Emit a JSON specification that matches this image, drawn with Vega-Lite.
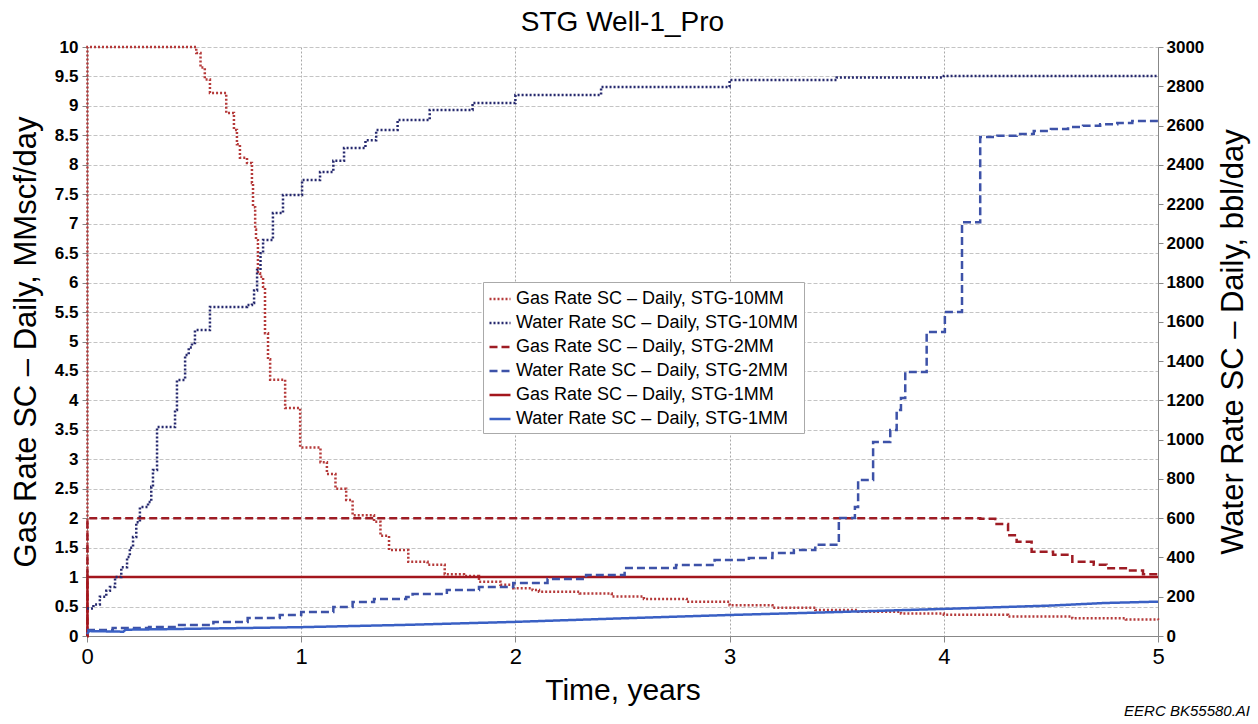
{
  "$schema": "https://vega.github.io/schema/vega-lite/v6.json",
  "autosize": {"type": "none"},
  "padding": {"left": 87, "top": 47, "right": 100, "bottom": 88},
  "width": 1071,
  "height": 589,
  "background": "white",
  "title": {"text": "STG Well-1_Pro", "fontSize": 28, "font": "Liberation Sans", "fontWeight": "normal", "color": "#000", "offset": 1, "anchor": "middle"},
  "config": {
    "view": {"stroke": null},
    "font": "Liberation Sans",
    "axis": {"domainColor": "#888", "tickColor": "#888", "labelColor": "#000", "titleColor": "#000", "titleFontWeight": "normal", "labelOverlap": false, "labelFlush": false}
  },
  "datasets": {
    "gas": [
      {"series": "Gas Rate SC – Daily, STG-10MM", "t": 0, "v": 0},
      {"series": "Gas Rate SC – Daily, STG-10MM", "t": 0.002, "v": 10},
      {"series": "Gas Rate SC – Daily, STG-10MM", "t": 0.51, "v": 9.9},
      {"series": "Gas Rate SC – Daily, STG-10MM", "t": 0.53, "v": 9.65},
      {"series": "Gas Rate SC – Daily, STG-10MM", "t": 0.55, "v": 9.45},
      {"series": "Gas Rate SC – Daily, STG-10MM", "t": 0.574, "v": 9.22},
      {"series": "Gas Rate SC – Daily, STG-10MM", "t": 0.65, "v": 8.88},
      {"series": "Gas Rate SC – Daily, STG-10MM", "t": 0.686, "v": 8.59},
      {"series": "Gas Rate SC – Daily, STG-10MM", "t": 0.7, "v": 8.35},
      {"series": "Gas Rate SC – Daily, STG-10MM", "t": 0.714, "v": 8.12},
      {"series": "Gas Rate SC – Daily, STG-10MM", "t": 0.747, "v": 8.03},
      {"series": "Gas Rate SC – Daily, STG-10MM", "t": 0.77, "v": 7.69},
      {"series": "Gas Rate SC – Daily, STG-10MM", "t": 0.775, "v": 7.28},
      {"series": "Gas Rate SC – Daily, STG-10MM", "t": 0.785, "v": 6.9},
      {"series": "Gas Rate SC – Daily, STG-10MM", "t": 0.789, "v": 6.72},
      {"series": "Gas Rate SC – Daily, STG-10MM", "t": 0.798, "v": 6.16},
      {"series": "Gas Rate SC – Daily, STG-10MM", "t": 0.808, "v": 6.1},
      {"series": "Gas Rate SC – Daily, STG-10MM", "t": 0.822, "v": 5.93},
      {"series": "Gas Rate SC – Daily, STG-10MM", "t": 0.831, "v": 5.14},
      {"series": "Gas Rate SC – Daily, STG-10MM", "t": 0.845, "v": 4.7},
      {"series": "Gas Rate SC – Daily, STG-10MM", "t": 0.855, "v": 4.35},
      {"series": "Gas Rate SC – Daily, STG-10MM", "t": 0.925, "v": 3.87},
      {"series": "Gas Rate SC – Daily, STG-10MM", "t": 0.995, "v": 3.2},
      {"series": "Gas Rate SC – Daily, STG-10MM", "t": 1.09, "v": 2.95},
      {"series": "Gas Rate SC – Daily, STG-10MM", "t": 1.12, "v": 2.75},
      {"series": "Gas Rate SC – Daily, STG-10MM", "t": 1.16, "v": 2.5},
      {"series": "Gas Rate SC – Daily, STG-10MM", "t": 1.21, "v": 2.31},
      {"series": "Gas Rate SC – Daily, STG-10MM", "t": 1.24, "v": 2.05},
      {"series": "Gas Rate SC – Daily, STG-10MM", "t": 1.34, "v": 1.94},
      {"series": "Gas Rate SC – Daily, STG-10MM", "t": 1.37, "v": 1.7},
      {"series": "Gas Rate SC – Daily, STG-10MM", "t": 1.41, "v": 1.46},
      {"series": "Gas Rate SC – Daily, STG-10MM", "t": 1.5, "v": 1.26},
      {"series": "Gas Rate SC – Daily, STG-10MM", "t": 1.59, "v": 1.21},
      {"series": "Gas Rate SC – Daily, STG-10MM", "t": 1.67, "v": 1.05},
      {"series": "Gas Rate SC – Daily, STG-10MM", "t": 1.76, "v": 1.02},
      {"series": "Gas Rate SC – Daily, STG-10MM", "t": 1.83, "v": 0.92},
      {"series": "Gas Rate SC – Daily, STG-10MM", "t": 1.93, "v": 0.87},
      {"series": "Gas Rate SC – Daily, STG-10MM", "t": 1.99, "v": 0.81},
      {"series": "Gas Rate SC – Daily, STG-10MM", "t": 2.08, "v": 0.78},
      {"series": "Gas Rate SC – Daily, STG-10MM", "t": 2.11, "v": 0.75},
      {"series": "Gas Rate SC – Daily, STG-10MM", "t": 2.3, "v": 0.72},
      {"series": "Gas Rate SC – Daily, STG-10MM", "t": 2.45, "v": 0.67},
      {"series": "Gas Rate SC – Daily, STG-10MM", "t": 2.6, "v": 0.63},
      {"series": "Gas Rate SC – Daily, STG-10MM", "t": 2.8, "v": 0.58},
      {"series": "Gas Rate SC – Daily, STG-10MM", "t": 3.0, "v": 0.52},
      {"series": "Gas Rate SC – Daily, STG-10MM", "t": 3.2, "v": 0.48},
      {"series": "Gas Rate SC – Daily, STG-10MM", "t": 3.4, "v": 0.44},
      {"series": "Gas Rate SC – Daily, STG-10MM", "t": 3.6, "v": 0.41},
      {"series": "Gas Rate SC – Daily, STG-10MM", "t": 3.8, "v": 0.38},
      {"series": "Gas Rate SC – Daily, STG-10MM", "t": 4.0, "v": 0.36},
      {"series": "Gas Rate SC – Daily, STG-10MM", "t": 4.3, "v": 0.33},
      {"series": "Gas Rate SC – Daily, STG-10MM", "t": 4.6, "v": 0.3},
      {"series": "Gas Rate SC – Daily, STG-10MM", "t": 4.85, "v": 0.28},
      {"series": "Gas Rate SC – Daily, STG-10MM", "t": 5.0, "v": 0.27},

      {"series": "Gas Rate SC – Daily, STG-2MM", "t": 0, "v": 0},
      {"series": "Gas Rate SC – Daily, STG-2MM", "t": 0.002, "v": 2},
      {"series": "Gas Rate SC – Daily, STG-2MM", "t": 4.17, "v": 1.99},
      {"series": "Gas Rate SC – Daily, STG-2MM", "t": 4.24, "v": 1.9},
      {"series": "Gas Rate SC – Daily, STG-2MM", "t": 4.3, "v": 1.71},
      {"series": "Gas Rate SC – Daily, STG-2MM", "t": 4.34, "v": 1.6},
      {"series": "Gas Rate SC – Daily, STG-2MM", "t": 4.41, "v": 1.43},
      {"series": "Gas Rate SC – Daily, STG-2MM", "t": 4.51, "v": 1.38},
      {"series": "Gas Rate SC – Daily, STG-2MM", "t": 4.6, "v": 1.26},
      {"series": "Gas Rate SC – Daily, STG-2MM", "t": 4.7, "v": 1.21},
      {"series": "Gas Rate SC – Daily, STG-2MM", "t": 4.76, "v": 1.15},
      {"series": "Gas Rate SC – Daily, STG-2MM", "t": 4.85, "v": 1.11},
      {"series": "Gas Rate SC – Daily, STG-2MM", "t": 4.93, "v": 1.05},
      {"series": "Gas Rate SC – Daily, STG-2MM", "t": 5.0, "v": 1.04},

      {"series": "Gas Rate SC – Daily, STG-1MM", "t": 0, "v": 0},
      {"series": "Gas Rate SC – Daily, STG-1MM", "t": 0.002, "v": 1},
      {"series": "Gas Rate SC – Daily, STG-1MM", "t": 5.0, "v": 1}
    ],
    "water": [
      {"series": "Water Rate SC – Daily, STG-10MM", "t": 0, "v": 140},
      {"series": "Water Rate SC – Daily, STG-10MM", "t": 0.03, "v": 160},
      {"series": "Water Rate SC – Daily, STG-10MM", "t": 0.06, "v": 200},
      {"series": "Water Rate SC – Daily, STG-10MM", "t": 0.09, "v": 230},
      {"series": "Water Rate SC – Daily, STG-10MM", "t": 0.107, "v": 250},
      {"series": "Water Rate SC – Daily, STG-10MM", "t": 0.131, "v": 300},
      {"series": "Water Rate SC – Daily, STG-10MM", "t": 0.16, "v": 350},
      {"series": "Water Rate SC – Daily, STG-10MM", "t": 0.187, "v": 402},
      {"series": "Water Rate SC – Daily, STG-10MM", "t": 0.2, "v": 450},
      {"series": "Water Rate SC – Daily, STG-10MM", "t": 0.215, "v": 504},
      {"series": "Water Rate SC – Daily, STG-10MM", "t": 0.23, "v": 580},
      {"series": "Water Rate SC – Daily, STG-10MM", "t": 0.247, "v": 657},
      {"series": "Water Rate SC – Daily, STG-10MM", "t": 0.285, "v": 682},
      {"series": "Water Rate SC – Daily, STG-10MM", "t": 0.3, "v": 760},
      {"series": "Water Rate SC – Daily, STG-10MM", "t": 0.308, "v": 845},
      {"series": "Water Rate SC – Daily, STG-10MM", "t": 0.327, "v": 1064},
      {"series": "Water Rate SC – Daily, STG-10MM", "t": 0.411, "v": 1151},
      {"series": "Water Rate SC – Daily, STG-10MM", "t": 0.42, "v": 1304},
      {"series": "Water Rate SC – Daily, STG-10MM", "t": 0.458, "v": 1431},
      {"series": "Water Rate SC – Daily, STG-10MM", "t": 0.475, "v": 1470},
      {"series": "Water Rate SC – Daily, STG-10MM", "t": 0.49, "v": 1492},
      {"series": "Water Rate SC – Daily, STG-10MM", "t": 0.504, "v": 1558},
      {"series": "Water Rate SC – Daily, STG-10MM", "t": 0.574, "v": 1676},
      {"series": "Water Rate SC – Daily, STG-10MM", "t": 0.747, "v": 1686},
      {"series": "Water Rate SC – Daily, STG-10MM", "t": 0.77, "v": 1696},
      {"series": "Water Rate SC – Daily, STG-10MM", "t": 0.78, "v": 1760},
      {"series": "Water Rate SC – Daily, STG-10MM", "t": 0.794, "v": 1864},
      {"series": "Water Rate SC – Daily, STG-10MM", "t": 0.81, "v": 1950},
      {"series": "Water Rate SC – Daily, STG-10MM", "t": 0.822, "v": 2017},
      {"series": "Water Rate SC – Daily, STG-10MM", "t": 0.868, "v": 2154},
      {"series": "Water Rate SC – Daily, STG-10MM", "t": 0.915, "v": 2246},
      {"series": "Water Rate SC – Daily, STG-10MM", "t": 1.004, "v": 2322},
      {"series": "Water Rate SC – Daily, STG-10MM", "t": 1.088, "v": 2363},
      {"series": "Water Rate SC – Daily, STG-10MM", "t": 1.15, "v": 2420},
      {"series": "Water Rate SC – Daily, STG-10MM", "t": 1.2, "v": 2485},
      {"series": "Water Rate SC – Daily, STG-10MM", "t": 1.3, "v": 2525},
      {"series": "Water Rate SC – Daily, STG-10MM", "t": 1.35, "v": 2577},
      {"series": "Water Rate SC – Daily, STG-10MM", "t": 1.45, "v": 2628},
      {"series": "Water Rate SC – Daily, STG-10MM", "t": 1.6, "v": 2679},
      {"series": "Water Rate SC – Daily, STG-10MM", "t": 1.8, "v": 2715},
      {"series": "Water Rate SC – Daily, STG-10MM", "t": 2.0, "v": 2755},
      {"series": "Water Rate SC – Daily, STG-10MM", "t": 2.4, "v": 2796},
      {"series": "Water Rate SC – Daily, STG-10MM", "t": 3.0, "v": 2832},
      {"series": "Water Rate SC – Daily, STG-10MM", "t": 3.5, "v": 2845},
      {"series": "Water Rate SC – Daily, STG-10MM", "t": 4.0, "v": 2852},
      {"series": "Water Rate SC – Daily, STG-10MM", "t": 5.0, "v": 2850},

      {"series": "Water Rate SC – Daily, STG-2MM", "t": 0, "v": 30},
      {"series": "Water Rate SC – Daily, STG-2MM", "t": 0.12, "v": 41},
      {"series": "Water Rate SC – Daily, STG-2MM", "t": 0.29, "v": 46},
      {"series": "Water Rate SC – Daily, STG-2MM", "t": 0.43, "v": 56},
      {"series": "Water Rate SC – Daily, STG-2MM", "t": 0.59, "v": 71},
      {"series": "Water Rate SC – Daily, STG-2MM", "t": 0.75, "v": 92},
      {"series": "Water Rate SC – Daily, STG-2MM", "t": 0.9, "v": 107},
      {"series": "Water Rate SC – Daily, STG-2MM", "t": 1.0, "v": 122},
      {"series": "Water Rate SC – Daily, STG-2MM", "t": 1.15, "v": 148},
      {"series": "Water Rate SC – Daily, STG-2MM", "t": 1.24, "v": 173},
      {"series": "Water Rate SC – Daily, STG-2MM", "t": 1.34, "v": 188},
      {"series": "Water Rate SC – Daily, STG-2MM", "t": 1.49, "v": 199},
      {"series": "Water Rate SC – Daily, STG-2MM", "t": 1.52, "v": 214},
      {"series": "Water Rate SC – Daily, STG-2MM", "t": 1.68, "v": 234},
      {"series": "Water Rate SC – Daily, STG-2MM", "t": 1.83, "v": 250},
      {"series": "Water Rate SC – Daily, STG-2MM", "t": 1.99, "v": 270},
      {"series": "Water Rate SC – Daily, STG-2MM", "t": 2.15, "v": 290},
      {"series": "Water Rate SC – Daily, STG-2MM", "t": 2.33, "v": 311},
      {"series": "Water Rate SC – Daily, STG-2MM", "t": 2.51, "v": 346},
      {"series": "Water Rate SC – Daily, STG-2MM", "t": 2.75, "v": 362},
      {"series": "Water Rate SC – Daily, STG-2MM", "t": 2.93, "v": 387},
      {"series": "Water Rate SC – Daily, STG-2MM", "t": 3.09, "v": 397},
      {"series": "Water Rate SC – Daily, STG-2MM", "t": 3.2, "v": 423},
      {"series": "Water Rate SC – Daily, STG-2MM", "t": 3.3, "v": 438},
      {"series": "Water Rate SC – Daily, STG-2MM", "t": 3.4, "v": 465},
      {"series": "Water Rate SC – Daily, STG-2MM", "t": 3.51, "v": 601},
      {"series": "Water Rate SC – Daily, STG-2MM", "t": 3.585, "v": 657},
      {"series": "Water Rate SC – Daily, STG-2MM", "t": 3.6, "v": 795},
      {"series": "Water Rate SC – Daily, STG-2MM", "t": 3.67, "v": 988},
      {"series": "Water Rate SC – Daily, STG-2MM", "t": 3.75, "v": 1049},
      {"series": "Water Rate SC – Daily, STG-2MM", "t": 3.78, "v": 1151},
      {"series": "Water Rate SC – Daily, STG-2MM", "t": 3.8, "v": 1212},
      {"series": "Water Rate SC – Daily, STG-2MM", "t": 3.82, "v": 1345},
      {"series": "Water Rate SC – Daily, STG-2MM", "t": 3.92, "v": 1548},
      {"series": "Water Rate SC – Daily, STG-2MM", "t": 4.005, "v": 1650},
      {"series": "Water Rate SC – Daily, STG-2MM", "t": 4.085, "v": 2108},
      {"series": "Water Rate SC – Daily, STG-2MM", "t": 4.17, "v": 2541},
      {"series": "Water Rate SC – Daily, STG-2MM", "t": 4.25, "v": 2548},
      {"series": "Water Rate SC – Daily, STG-2MM", "t": 4.34, "v": 2557},
      {"series": "Water Rate SC – Daily, STG-2MM", "t": 4.42, "v": 2572},
      {"series": "Water Rate SC – Daily, STG-2MM", "t": 4.5, "v": 2582},
      {"series": "Water Rate SC – Daily, STG-2MM", "t": 4.58, "v": 2592},
      {"series": "Water Rate SC – Daily, STG-2MM", "t": 4.65, "v": 2599},
      {"series": "Water Rate SC – Daily, STG-2MM", "t": 4.73, "v": 2607},
      {"series": "Water Rate SC – Daily, STG-2MM", "t": 4.81, "v": 2613},
      {"series": "Water Rate SC – Daily, STG-2MM", "t": 4.88, "v": 2623},
      {"series": "Water Rate SC – Daily, STG-2MM", "t": 5.0, "v": 2628}
    ],
    "water1": [
      {"series": "Water Rate SC – Daily, STG-1MM", "t": 0, "v": 10},
      {"series": "Water Rate SC – Daily, STG-1MM", "t": 0.01, "v": 25},
      {"series": "Water Rate SC – Daily, STG-1MM", "t": 0.17, "v": 22},
      {"series": "Water Rate SC – Daily, STG-1MM", "t": 0.18, "v": 32},
      {"series": "Water Rate SC – Daily, STG-1MM", "t": 0.5, "v": 37},
      {"series": "Water Rate SC – Daily, STG-1MM", "t": 1.0, "v": 45},
      {"series": "Water Rate SC – Daily, STG-1MM", "t": 1.5, "v": 57},
      {"series": "Water Rate SC – Daily, STG-1MM", "t": 2.0, "v": 72},
      {"series": "Water Rate SC – Daily, STG-1MM", "t": 2.5, "v": 90},
      {"series": "Water Rate SC – Daily, STG-1MM", "t": 3.0, "v": 107},
      {"series": "Water Rate SC – Daily, STG-1MM", "t": 3.5, "v": 122},
      {"series": "Water Rate SC – Daily, STG-1MM", "t": 4.0, "v": 138},
      {"series": "Water Rate SC – Daily, STG-1MM", "t": 4.5, "v": 155},
      {"series": "Water Rate SC – Daily, STG-1MM", "t": 4.75, "v": 168},
      {"series": "Water Rate SC – Daily, STG-1MM", "t": 5.0, "v": 175}
    ],
    "footer": [{"label": "EERC BK55580.AI", "t": 5, "v": 0}]
  },
  "layer": [
    {
      "layer": [
        {
          "data": {"name": "gas"},
          "mark": {"type": "line", "interpolate": "step-after", "strokeWidth": 2.5},
          "encoding": {
            "x": {"field": "t", "type": "quantitative",
              "scale": {"domain": [0, 5], "nice": false},
              "axis": {"values": [0, 1, 2, 3, 4, 5], "format": "d", "title": "Time, years", "titleFontSize": 30, "titlePadding": 8, "labelFontSize": 22, "labelPadding": 4, "tickSize": 6, "grid": true, "gridColor": "#a8a8a8", "gridDash": [2, 2], "gridWidth": 1}},
            "y": {"field": "v", "type": "quantitative",
              "scale": {"domain": [0, 10], "nice": false},
              "axis": {"values": [0, 0.5, 1, 1.5, 2, 2.5, 3, 3.5, 4, 4.5, 5, 5.5, 6, 6.5, 7, 7.5, 8, 8.5, 9, 9.5, 10], "format": "~g", "title": "Gas Rate SC – Daily, MMscf/day", "titleFontSize": 31, "titlePadding": 12, "labelFontSize": 17, "labelFontWeight": "bold", "labelPadding": 4, "tickSize": 5, "grid": true, "gridColor": "#c4c4c4", "gridDash": [4, 2], "gridWidth": 1}},
            "color": {"field": "series", "type": "nominal",
              "scale": {"domain": ["Gas Rate SC – Daily, STG-10MM", "Water Rate SC – Daily, STG-10MM", "Gas Rate SC – Daily, STG-2MM", "Water Rate SC – Daily, STG-2MM", "Gas Rate SC – Daily, STG-1MM", "Water Rate SC – Daily, STG-1MM"],
                "range": ["#b53a3a", "#26296e", "#9e1c24", "#3d52a8", "#a3161d", "#3a60c4"]},
              "legend": {"title": null, "orient": "none", "legendX": 396, "legendY": 235, "labelFontSize": 18, "labelColor": "#000", "symbolType": "stroke", "symbolSize": 441, "symbolStrokeWidth": 2.5, "rowPadding": 3, "fillColor": "white", "strokeColor": "#aaa", "padding": 5, "labelLimit": 400}},
            "strokeDash": {"field": "series", "type": "nominal",
              "scale": {"domain": ["Gas Rate SC – Daily, STG-10MM", "Water Rate SC – Daily, STG-10MM", "Gas Rate SC – Daily, STG-2MM", "Water Rate SC – Daily, STG-2MM", "Gas Rate SC – Daily, STG-1MM", "Water Rate SC – Daily, STG-1MM"],
                "range": [[2, 2], [2, 2], [8, 4], [8, 4], [1, 0], [1, 0]]},
              "legend": {"title": null, "orient": "none", "legendX": 396, "legendY": 235, "labelFontSize": 18, "labelColor": "#000", "symbolType": "stroke", "symbolSize": 441, "symbolStrokeWidth": 2.5, "rowPadding": 3, "fillColor": "white", "strokeColor": "#aaa", "padding": 5, "labelLimit": 400}},
            "order": {"value": null}
          }
        },
        {
          "data": {"name": "footer"},
          "mark": {"type": "text", "align": "right", "baseline": "middle", "fontSize": 15, "fontStyle": "italic", "dx": 92, "dy": 75, "color": "#000"},
          "encoding": {
            "x": {"field": "t", "type": "quantitative",
              "axis": {"values": [0, 1, 2, 3, 4, 5], "format": "d", "title": "Time, years", "titleFontSize": 30, "titlePadding": 8, "labelFontSize": 22, "labelPadding": 4, "tickSize": 6, "grid": true, "gridColor": "#a8a8a8", "gridDash": [2, 2], "gridWidth": 1}},
            "y": {"field": "v", "type": "quantitative",
              "axis": {"values": [0, 0.5, 1, 1.5, 2, 2.5, 3, 3.5, 4, 4.5, 5, 5.5, 6, 6.5, 7, 7.5, 8, 8.5, 9, 9.5, 10], "format": "~g", "title": "Gas Rate SC – Daily, MMscf/day", "titleFontSize": 31, "titlePadding": 12, "labelFontSize": 17, "labelFontWeight": "bold", "labelPadding": 4, "tickSize": 5, "grid": true, "gridColor": "#c4c4c4", "gridDash": [4, 2], "gridWidth": 1}},
            "text": {"field": "label"}
          }
        }
      ]
    },
    {
      "layer": [
        {
          "data": {"name": "water"},
          "mark": {"type": "line", "interpolate": "step-after", "strokeWidth": 2.5},
          "encoding": {
            "x": {"field": "t", "type": "quantitative"},
            "y": {"field": "v", "type": "quantitative",
              "scale": {"domain": [0, 3000], "nice": false},
              "axis": {"orient": "right", "values": [0, 200, 400, 600, 800, 1000, 1200, 1400, 1600, 1800, 2000, 2200, 2400, 2600, 2800, 3000], "format": "d", "title": "Water Rate SC – Daily, bbl/day", "titleAngle": 270, "titleFontSize": 31, "titlePadding": 46, "labelFontSize": 17, "labelFontWeight": "bold", "labelPadding": 3, "tickSize": 5, "grid": false}},
            "color": {"field": "series", "type": "nominal"},
            "strokeDash": {"field": "series", "type": "nominal"},
            "order": {"value": null}
          }
        },
        {
          "data": {"name": "water1"},
          "mark": {"type": "line", "interpolate": "linear", "strokeWidth": 2.5},
          "encoding": {
            "x": {"field": "t", "type": "quantitative"},
            "y": {"field": "v", "type": "quantitative",
              "axis": {"orient": "right", "values": [0, 200, 400, 600, 800, 1000, 1200, 1400, 1600, 1800, 2000, 2200, 2400, 2600, 2800, 3000], "format": "d", "title": "Water Rate SC – Daily, bbl/day", "titleAngle": 270, "titleFontSize": 31, "titlePadding": 46, "labelFontSize": 17, "labelFontWeight": "bold", "labelPadding": 3, "tickSize": 5, "grid": false}},
            "color": {"field": "series", "type": "nominal"},
            "strokeDash": {"field": "series", "type": "nominal"},
            "order": {"value": null}
          }
        }
      ]
    }
  ],
  "resolve": {"scale": {"y": "independent", "color": "shared", "strokeDash": "shared"}}
}
